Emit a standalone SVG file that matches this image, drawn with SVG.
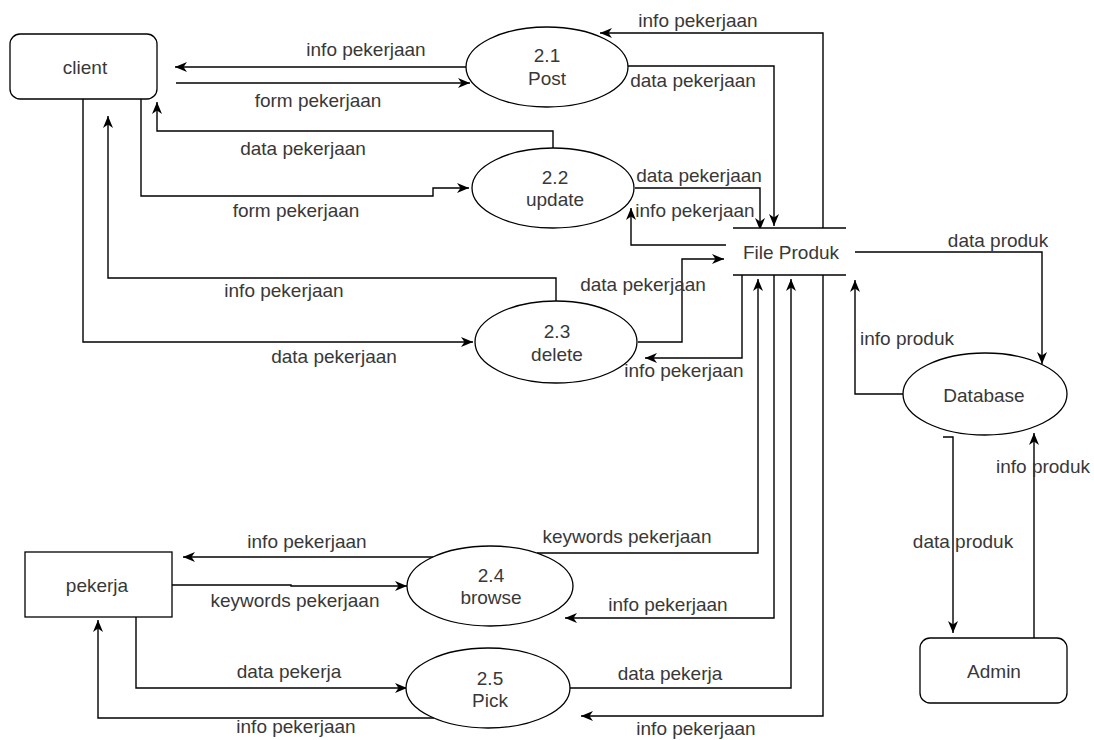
<svg xmlns="http://www.w3.org/2000/svg" width="1094" height="740" viewBox="0 0 1094 740">
  <style>
    .shape { fill: #ffffff; stroke: #000000; stroke-width: 1.3; }
    .store { stroke: #000000; stroke-width: 1.3; fill: none; }
    .flow { fill: none; stroke: #000000; stroke-width: 1.4; }
    .arrow { marker-end: url(#head); }
    text { font-family: "Liberation Sans", Arial, Helvetica, sans-serif; font-size: 19px; fill: #383838; text-anchor: middle; }
  </style>
  <defs>
    <marker id="head" viewBox="0 0 12 10" refX="12" refY="5" markerWidth="12" markerHeight="10" markerUnits="userSpaceOnUse" orient="auto">
      <path d="M0,0 L12,5 L0,10 L3.5,5 Z" fill="#000000"/>
    </marker>
  </defs>

  <rect width="1094" height="740" fill="#ffffff"/>

  <!-- connectors and their labels -->
  <g id="connectors">
    <g id="e-post-client">
      <path class="flow arrow" d="M466,67 L175,67"/>
      <text x="366" y="56">info pekerjaan</text>
    </g>
    <g id="e-client-post">
      <path class="flow arrow" d="M176,83 L470,83"/>
      <text x="318" y="107">form pekerjaan</text>
    </g>
    <g id="e-update-client">
      <path class="flow arrow" d="M553,148 L553,131 L157,131 L157,102"/>
      <text x="303" y="155">data pekerjaan</text>
    </g>
    <g id="e-client-update">
      <path class="flow arrow" d="M141,99 L141,196 L433,196 L433,188 L469,188"/>
      <text x="296" y="217">form pekerjaan</text>
    </g>
    <g id="e-client-delete">
      <path class="flow arrow" d="M83,99 L83,342 L473,342"/>
      <text x="334" y="363">data pekerjaan</text>
    </g>
    <g id="e-delete-client">
      <path class="flow arrow" d="M556,302 L556,278 L108,278 L108,116"/>
      <text x="284" y="297">info pekerjaan</text>
    </g>

    <g id="e-post-file">
      <path class="flow arrow" d="M628,66 L774,66 L774,226"/>
      <text x="693" y="87">data pekerjaan</text>
    </g>
    <g id="e-file-post">
      <path class="flow arrow" d="M823,228 L823,33 L600,33"/>
      <text x="698" y="27">info pekerjaan</text>
    </g>
    <g id="e-update-file">
      <path class="flow arrow" d="M635,188 L760,188 L760,230"/>
      <text x="699" y="182">data pekerjaan</text>
    </g>
    <g id="e-file-update">
      <path class="flow arrow" d="M726,245 L631,245 L631,208"/>
      <text x="695" y="217">info pekerjaan</text>
    </g>
    <g id="e-delete-file">
      <path class="flow arrow" d="M638,342 L682,342 L682,259 L724,259"/>
      <text x="643" y="291">data pekerjaan</text>
    </g>
    <g id="e-file-delete">
      <path class="flow arrow" d="M742,275 L742,358 L645,358"/>
      <text x="684" y="377">info pekerjaan</text>
    </g>

    <g id="e-browse-file">
      <path class="flow arrow" d="M537,553 L758,553 L758,279"/>
      <text x="627" y="543">keywords pekerjaan</text>
    </g>
    <g id="e-file-browse">
      <path class="flow arrow" d="M774,275 L774,618 L565,618"/>
      <text x="668" y="611">info pekerjaan</text>
    </g>
    <g id="e-pick-file">
      <path class="flow arrow" d="M570,688 L791,688 L791,279"/>
      <text x="670" y="680">data pekerja</text>
    </g>
    <g id="e-file-pick">
      <path class="flow arrow" d="M823,275 L823,716 L581,716"/>
      <text x="696" y="735">info pekerjaan</text>
    </g>

    <g id="e-browse-pekerja">
      <path class="flow arrow" d="M433,557 L183,557"/>
      <text x="307" y="548">info pekerjaan</text>
    </g>
    <g id="e-pekerja-browse">
      <path class="flow arrow" d="M172,585 L291,585 L291,586 L407,586"/>
      <text x="295" y="607">keywords pekerjaan</text>
    </g>
    <g id="e-pekerja-pick">
      <path class="flow arrow" d="M136,617 L136,688 L407,688"/>
      <text x="289" y="678">data pekerja</text>
    </g>
    <g id="e-pick-pekerja">
      <path class="flow arrow" d="M434,718 L98,718 L98,620"/>
      <text x="296" y="733">info pekerjaan</text>
    </g>

    <g id="e-file-database">
      <path class="flow arrow" d="M855,252 L1042,252 L1042,364"/>
      <text x="998" y="247">data produk</text>
    </g>
    <g id="e-database-file">
      <path class="flow arrow" d="M903,394 L855,394 L855,280"/>
      <text x="907" y="345">info produk</text>
    </g>
    <g id="e-database-admin">
      <path class="flow arrow" d="M943,437 L953,437 L953,633"/>
      <text x="963" y="548">data produk</text>
    </g>
    <g id="e-admin-database">
      <path class="flow arrow" d="M1034,638 L1034,433"/>
      <text x="1043" y="473">info produk</text>
    </g>
  </g>

  <!-- external entities -->
  <g id="client">
    <rect class="shape" x="10" y="34" width="147" height="65" rx="10" ry="10"/>
    <text x="85" y="74">client</text>
  </g>
  <g id="pekerja">
    <rect class="shape" x="25" y="552" width="147" height="65"/>
    <text x="97" y="592">pekerja</text>
  </g>
  <g id="admin">
    <rect class="shape" x="920" y="638" width="147" height="65" rx="10" ry="10"/>
    <text x="994" y="678">Admin</text>
  </g>

  <!-- processes -->
  <g id="p-post">
    <ellipse class="shape" cx="547" cy="67" rx="81" ry="40"/>
    <text x="547" y="62">2.1</text>
    <text x="547" y="85">Post</text>
  </g>
  <g id="p-update">
    <ellipse class="shape" cx="553" cy="188" rx="81" ry="40"/>
    <text x="555" y="184">2.2</text>
    <text x="555" y="206">update</text>
  </g>
  <g id="p-delete">
    <ellipse class="shape" cx="556" cy="342" rx="81" ry="41"/>
    <text x="557" y="338">2.3</text>
    <text x="557" y="361">delete</text>
  </g>
  <g id="p-browse">
    <ellipse class="shape" cx="490" cy="586" rx="83" ry="40"/>
    <text x="491" y="582">2.4</text>
    <text x="491" y="604">browse</text>
  </g>
  <g id="p-pick">
    <ellipse class="shape" cx="488" cy="688" rx="82" ry="40"/>
    <text x="490" y="685">2.5</text>
    <text x="490" y="707">Pick</text>
  </g>
  <g id="database">
    <ellipse class="shape" cx="985" cy="394" rx="82" ry="41"/>
    <text x="984" y="402">Database</text>
  </g>

  <!-- data store -->
  <g id="file-produk">
    <rect x="733" y="228" width="113" height="47" fill="#ffffff"/>
    <line class="store" x1="733" y1="228" x2="846" y2="228"/>
    <line class="store" x1="733" y1="275" x2="846" y2="275"/>
    <text x="791" y="259">File Produk</text>
  </g>
</svg>
